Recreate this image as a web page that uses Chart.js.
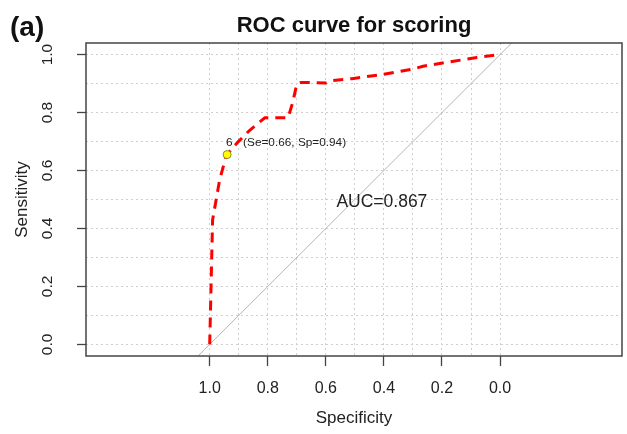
<!DOCTYPE html>
<html>
<head>
<meta charset="utf-8">
<script src="https://cdn.jsdelivr.net/npm/chart.js@4.4.1/dist/chart.umd.min.js"></script>
<style>
  html, body { margin: 0; padding: 0; background: #fff; }
  #wrap { width: 627px; height: 434px; position: relative; }
</style>
</head>
<body>
<div id="wrap"><canvas id="roc"></canvas></div>
<script>
// ROC curve (specificity runs right to left)
const specificity = [1.0, 0.99, 0.966, 0.943, 0.903, 0.863, 0.81, 0.73, 0.714, 0.70, 0.685, 0.60, 0.58, 0.51, 0.40, 0.30, 0.265, 0.16, 0.08, 0.0];
const sensitivity = [0.0, 0.43, 0.566, 0.652, 0.698, 0.738, 0.782, 0.782, 0.835, 0.899, 0.904, 0.902, 0.91, 0.917, 0.932, 0.95, 0.96, 0.977, 0.99, 1.0];

// chance diagonal, running edge to edge of the plot
const chanceSpec = [1.04, -0.04];
const chanceSens = [-0.04, 1.04];

// best threshold
const bestSpec = 0.94;
const bestSens = 0.655;
const bestIndex = '6';
const bestLabel = '(Se=0.66, Sp=0.94)';

const aucLabel = 'AUC=0.867';
const aucSpec = 0.407;
const aucSens = 0.49;

const xTicks = [1.0, 0.8, 0.6, 0.4, 0.2, 0.0];
const yTicks = [0.0, 0.2, 0.4, 0.6, 0.8, 1.0];
const gridValues = [0.0, 0.1, 0.2, 0.3, 0.4, 0.5, 0.6, 0.7, 0.8, 0.9, 1.0];

const FONT = '"Liberation Sans", Arial, sans-serif';
const TEXT = '#222';

const isMajor = (list, v) => list.some(t => Math.abs(t - v) < 1e-9);

const decorations = {
    id: 'decorations',
    afterDraw(chart) {
        const { ctx, chartArea: a, scales: { x, y } } = chart;
        ctx.save();

        // plot frame
        ctx.strokeStyle = '#444';
        ctx.lineWidth = 1.5;
        ctx.strokeRect(a.left, a.top, a.right - a.left, a.bottom - a.top);

        // y tick labels, rotated like R's default las=0
        ctx.fillStyle = TEXT;
        ctx.font = '15.5px ' + FONT;
        ctx.textAlign = 'center';
        ctx.textBaseline = 'middle';
        yTicks.forEach(v => {
            ctx.save();
            ctx.translate(a.left - 38, y.getPixelForValue(v));
            ctx.rotate(-Math.PI / 2);
            ctx.fillText(v.toFixed(1), 0, 0);
            ctx.restore();
        });

        // best threshold label
        const px = x.getPixelForValue(bestSpec);
        const py = y.getPixelForValue(bestSens);
        ctx.font = '11.8px ' + FONT;
        ctx.textAlign = 'left';
        ctx.fillText(bestIndex, px - 1, py - 12);
        ctx.fillText(bestLabel, px + 16, py - 12);

        // AUC
        ctx.font = '17.5px ' + FONT;
        ctx.textAlign = 'center';
        ctx.fillText(aucLabel, x.getPixelForValue(aucSpec), y.getPixelForValue(aucSens));

        // panel tag
        ctx.font = 'bold 28px ' + FONT;
        ctx.textAlign = 'left';
        ctx.textBaseline = 'alphabetic';
        ctx.fillStyle = '#111';
        ctx.fillText('(a)', 10, 36);

        ctx.restore();
    }
};

const ctx = document.getElementById('roc').getContext('2d');

new Chart(ctx, {
    type: 'scatter',
    data: {
        datasets: [
            {
                label: 'best',
                data: [{ x: bestSpec, y: bestSens }],
                pointRadius: 4,
                pointBackgroundColor: '#ffff00',
                pointBorderColor: '#8a8a30',
                pointBorderWidth: 1,
                order: 0
            },
            {
                label: 'ROC',
                data: specificity.map((s, i) => ({ x: s, y: sensitivity[i] })),
                showLine: true,
                borderColor: '#ff0000',
                borderWidth: 3,
                borderDash: [10, 7],
                borderCapStyle: 'butt',
                pointRadius: 0,
                tension: 0,
                order: 1
            },
            {
                label: 'chance',
                data: chanceSpec.map((s, i) => ({ x: s, y: chanceSens[i] })),
                showLine: true,
                borderColor: '#b5b5b5',
                borderWidth: 1,
                pointRadius: 0,
                order: 2
            }
        ]
    },
    options: {
        responsive: true,
        maintainAspectRatio: false,
        animation: false,
        layout: {
            padding: { top: 0, right: 4, bottom: 0, left: 0 }
        },
        plugins: {
            legend: { display: false },
            tooltip: { enabled: false },
            title: {
                display: true,
                fullSize: false,
                text: 'ROC curve for scoring',
                color: '#111',
                font: { family: FONT, size: 22, weight: 'bold' },
                padding: { top: 13, bottom: 3.6 }
            }
        },
        scales: {
            x: {
                type: 'linear',
                reverse: true,
                min: -0.42,
                max: 1.426,
                afterBuildTicks: scale => {
                    scale.ticks = gridValues.map(v => ({ value: v }));
                },
                afterFit: scale => {
                    scale.height = 78;
                },
                grid: {
                    color: '#cfcfcf',
                    lineWidth: 1,
                    drawTicks: true,
                    tickLength: 10,
                    tickWidth: 1.3,
                    tickColor: c => isMajor(xTicks, c.tick.value) ? '#444' : 'rgba(0,0,0,0)'
                },
                border: { display: false, dash: [2, 3] },
                ticks: {
                    autoSkip: false,
                    maxRotation: 0,
                    minRotation: 0,
                    padding: 13,
                    color: TEXT,
                    font: { family: FONT, size: 16 },
                    callback: v => isMajor(xTicks, v) ? v.toFixed(1) : ''
                },
                title: {
                    display: true,
                    text: 'Specificity',
                    color: TEXT,
                    font: { family: FONT, size: 17 },
                    padding: { top: 0, bottom: 5 }
                }
            },
            y: {
                type: 'linear',
                min: -0.04,
                max: 1.04,
                afterBuildTicks: scale => {
                    scale.ticks = gridValues.map(v => ({ value: v }));
                },
                afterFit: scale => {
                    scale.width = 86;
                },
                grid: {
                    color: '#cfcfcf',
                    lineWidth: 1,
                    drawTicks: true,
                    tickLength: 9,
                    tickWidth: 1.3,
                    tickColor: c => isMajor(yTicks, c.tick.value) ? '#444' : 'rgba(0,0,0,0)'
                },
                border: { display: false, dash: [2, 3] },
                ticks: {
                    display: false
                },
                title: {
                    display: true,
                    text: 'Sensitivity',
                    color: TEXT,
                    font: { family: FONT, size: 17 },
                    padding: { top: 12, bottom: 0 }
                }
            }
        }
    },
    plugins: [decorations]
});
</script>
</body>
</html>
